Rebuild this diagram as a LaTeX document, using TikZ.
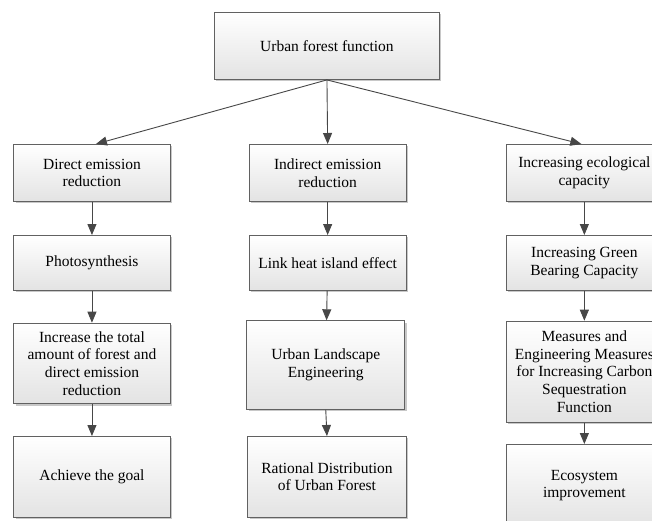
\documentclass[tikz,border=0pt]{standalone}
\usepackage{fontspec}
\setmainfont{Liberation Serif}
\newfontfamily\boxfont{Liberation Serif}
\usetikzlibrary{arrows.meta,shadows}
\begin{document}
\begin{tikzpicture}[x=1pt,y=-1pt,
  box/.style={draw=black!62, line width=0.9pt, top color=white, bottom color=black!11,
    drop shadow={shadow xshift=2pt, shadow yshift=-2pt, fill=black!30, opacity=0.7},
    align=center, font=\boxfont\fontsize{15.5}{17.7}\selectfont, inner sep=0pt, anchor=north west,
    minimum width=156.4pt},
  arr/.style={draw=black!72, line width=0.9pt, -{Triangle[length=11pt,width=9pt]}}]
\useasboundingbox (0,0) rectangle (652,520);
\clip (0,0) rectangle (652,520);
\fill[white] (0,0) rectangle (652,520);
% top
\node[box, minimum width=225pt, minimum height=67pt] (top) at (214,12) {Urban forest function};
% column 1
\node[box, minimum height=57pt] (a1) at (13.3,144) {Direct emission\\reduction};
\node[box, minimum height=55pt] (a2) at (13.3,235) {Photosynthesis};
\node[box, minimum height=80.6pt] (a3) at (13.3,322.7) {Increase the total\\amount of forest and\\direct emission\\reduction};
\node[box, minimum height=80.7pt] (a4) at (13.3,436) {Achieve the goal};
% column 2
\node[box, minimum width=157pt, minimum height=57pt] (b1) at (248.7,144) {Indirect emission\\reduction};
\node[box, minimum width=157pt, minimum height=55pt] (b2) at (248.7,235) {Link heat island effect};
\node[box, minimum width=158pt, minimum height=88.7pt] (b3) at (246.3,320.3) {Urban Landscape\\Engineering};
\node[box, minimum width=158.4pt, minimum height=80.7pt] (b4) at (247.3,436) {Rational Distribution\\of Urban Forest};
% column 3
\node[box, minimum height=57pt] (c1) at (505.7,144) {Increasing ecological\\capacity};
\node[box, minimum height=55pt] (c2) at (505.7,235) {Increasing Green\\Bearing Capacity};
\node[box, minimum height=101pt] (c3) at (505.7,320.7) {Measures and\\Engineering Measures\\for Increasing Carbon\\Sequestration\\Function};
\node[box, minimum height=82pt] (c4) at (505.7,444) {Ecosystem\\improvement};
% connectors
\draw[arr] (top.south) -- ([xshift=4pt]a1.north);
\draw[arr] (top.south) -- (b1.north);
\draw[arr] (top.south) -- ([xshift=-3pt]c1.north);
\draw[arr] (a1) -- (a2);
\draw[arr] (a2) -- (a3);
\draw[arr] (a3) -- (a4);
\draw[arr] (b1) -- (b2);
\draw[arr] (b2) -- (b3);
\draw[arr] (b3.south) -- (b4.north);
\draw[arr] (c1) -- (c2);
\draw[arr] (c2) -- (c3);
\draw[arr] (c3) -- (c4);
\end{tikzpicture}
\end{document}
